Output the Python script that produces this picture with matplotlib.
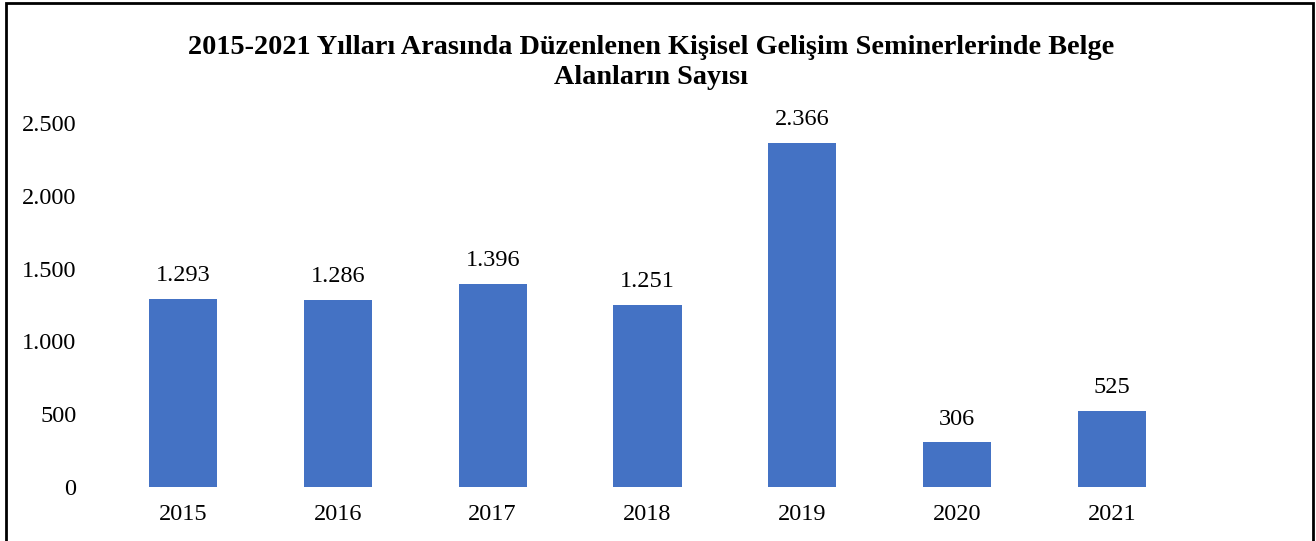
import matplotlib.pyplot as plt
from matplotlib.patches import Rectangle
from matplotlib.ticker import FuncFormatter

years = ["2015", "2016", "2017", "2018", "2019", "2020", "2021"]
counts = [1293, 1286, 1396, 1251, 2366, 306, 525]
y_ticks = [0, 500, 1000, 1500, 2000, 2500]


def tr_fmt(v, pos=None):
    return f"{int(v):,}".replace(",", ".")


plt.rcParams['font.family'] = ['Liberation Serif', 'DejaVu Serif']

fig = plt.figure(figsize=(13.16, 5.41), dpi=100)
ax = fig.add_axes([0.0802, 0.0998, 0.8237, 0.6728])

x = range(len(years))
bars = ax.bar(x, counts, width=0.44, color='#4472C4', zorder=2)

for bar, val in zip(bars, counts):
    ax.annotate(tr_fmt(val), (bar.get_x() + bar.get_width() / 2, bar.get_height()),
                xytext=(0, 9), textcoords='offset points', ha='center', va='bottom',
                fontsize=17.5, annotation_clip=False)

ax.set_xlim(-0.5, len(years) - 0.5)
ax.set_ylim(0, 2500)
ax.set_xticks(list(x))
ax.set_xticklabels(years)
ax.set_yticks(y_ticks)
ax.yaxis.set_major_formatter(FuncFormatter(tr_fmt))
ax.tick_params(axis='both', length=0, labelsize=17.5)
ax.tick_params(axis='y', pad=21)
ax.tick_params(axis='x', pad=12)
for s in ax.spines.values():
    s.set_visible(False)

fig.text(0.495, 0.884, "2015-2021 Yılları Arasında Düzenlenen Kişisel Gelişim Seminerlerinde Belge\nAlanların Sayısı",
         ha='center', va='center', fontsize=20.3, fontweight='bold', linespacing=1.26)

fig.patches.append(Rectangle((6 / 1316, -0.05), (1313 - 6) / 1316, (541 - 2) / 541 + 0.05 - 0.002,
                             transform=fig.transFigure, fill=False, edgecolor='black', linewidth=2))

fig.savefig("out.png", dpi=100)
